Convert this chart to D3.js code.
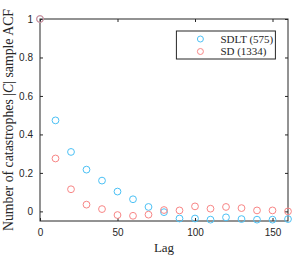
<!DOCTYPE html>
<html>
<head>
<meta charset="utf-8">
<script src="https://cdn.jsdelivr.net/npm/d3@7"></script>
<style>
  body { margin: 0; background: #fff; }
  .tick text { font-family: "Liberation Sans", Arial, sans-serif; font-size: 10px; fill: #262626; }
  .lbl { font-family: "Liberation Serif", "DejaVu Serif", serif; fill: #262626; }
</style>
</head>
<body>
<div id="vis"></div>
<script>
// Data
const lags = [0, 10, 20, 30, 40, 50, 60, 70, 80, 90, 100, 110, 120, 130, 140, 150, 160];
const sdltAcf = [1, 0.473, 0.309, 0.217, 0.160, 0.103, 0.063, 0.023, -0.004, -0.037, -0.037, -0.043, -0.031, -0.040, -0.043, -0.043, -0.040];
const sdAcf = [1, 0.275, 0.115, 0.035, 0.012, -0.019, -0.023, -0.017, 0.007, 0.005, 0.026, 0.014, 0.023, 0.017, 0.005, 0.005, 0.0];
const seriesNames = ["SDLT (575)", "SD (1334)"];
const xTicks = [0, 50, 100, 150];
const yTicks = [0, 0.2, 0.4, 0.6, 0.8, 1];

const W = 299, H = 257;
const margin = { top: 19, right: 11, bottom: 36, left: 40 };
const width = W - margin.left - margin.right;
const height = H - margin.top - margin.bottom;
const colors = ["#4cc1f5", "#f88686"];
const axisCol = "#262626";

const svg = d3.select('#vis').append('svg')
  .attr('width', W).attr('height', H);

const g = svg.append('g')
  .attr('transform', `translate(${margin.left},${margin.top})`);

const x = d3.scaleLinear().domain([0, 160]).range([0, width]);
const y = d3.scaleLinear().domain([-0.05, 1]).range([height, 0]);

// box
g.append('rect')
  .attr('width', width).attr('height', height)
  .attr('fill', 'none').attr('stroke', axisCol).attr('stroke-width', 1);

// axes, ticks pointing inward
const fmt = d => d === 0 ? "0" : (d === 1 ? "1" : d3.format(".1f")(d));
g.append('g').attr('transform', `translate(0,${height})`)
  .call(d3.axisBottom(x).tickValues(xTicks).tickSizeInner(-3).tickSizeOuter(0).tickPadding(8))
  .call(a => a.select('.domain').remove())
  .call(a => a.selectAll('line').attr('stroke', axisCol));
g.append('g')
  .call(d3.axisTop(x).tickValues(xTicks).tickSizeInner(-3).tickSizeOuter(0).tickFormat(''))
  .call(a => a.select('.domain').remove())
  .call(a => a.selectAll('line').attr('stroke', axisCol));
g.append('g')
  .call(d3.axisLeft(y).tickValues(yTicks).tickFormat(fmt).tickSizeInner(-3).tickSizeOuter(0).tickPadding(7))
  .call(a => a.select('.domain').remove())
  .call(a => a.selectAll('line').attr('stroke', axisCol));
g.append('g').attr('transform', `translate(${width},0)`)
  .call(d3.axisRight(y).tickValues(yTicks).tickSizeInner(-3).tickSizeOuter(0).tickFormat(''))
  .call(a => a.select('.domain').remove())
  .call(a => a.selectAll('line').attr('stroke', axisCol));

// points
const series = [sdltAcf, sdAcf];
series.forEach((vals, i) => {
  g.append('g').selectAll('circle')
    .data(lags.map((l, j) => [l, vals[j]]))
    .enter().append('circle')
    .attr('cx', d => x(d[0]))
    .attr('cy', d => y(d[1]))
    .attr('r', 3.4)
    .attr('fill', 'none')
    .attr('stroke', colors[i])
    .attr('stroke-width', 1);
});

// legend
const lg = g.append('g').attr('transform', `translate(${x(88)},${12})`);
lg.append('rect')
  .attr('width', 99).attr('height', 28)
  .attr('fill', '#fff').attr('stroke', axisCol).attr('stroke-width', 1);
seriesNames.forEach((name, i) => {
  lg.append('circle')
    .attr('cx', 24).attr('cy', 8 + i * 12.5)
    .attr('r', 3)
    .attr('fill', 'none').attr('stroke', colors[i]);
  lg.append('text')
    .attr('class', 'lbl')
    .attr('x', 44).attr('y', 8 + i * 12.5)
    .attr('dy', '0.35em')
    .attr('font-size', 11)
    .text(name);
});

// axis labels
g.append('text')
  .attr('class', 'lbl')
  .attr('x', width / 2).attr('y', height + 31)
  .attr('text-anchor', 'middle')
  .attr('font-size', 13)
  .text('Lag');

const yl = g.append('text')
  .attr('class', 'lbl')
  .attr('transform', 'rotate(-90)')
  .attr('x', -height / 2).attr('y', -27)
  .attr('text-anchor', 'middle')
  .attr('font-size', 13.8);
yl.append('tspan').text('Number of catastrophes |');
yl.append('tspan').attr('font-style', 'italic').text('C');
yl.append('tspan').text('| sample ACF');
</script>
</body>
</html>
